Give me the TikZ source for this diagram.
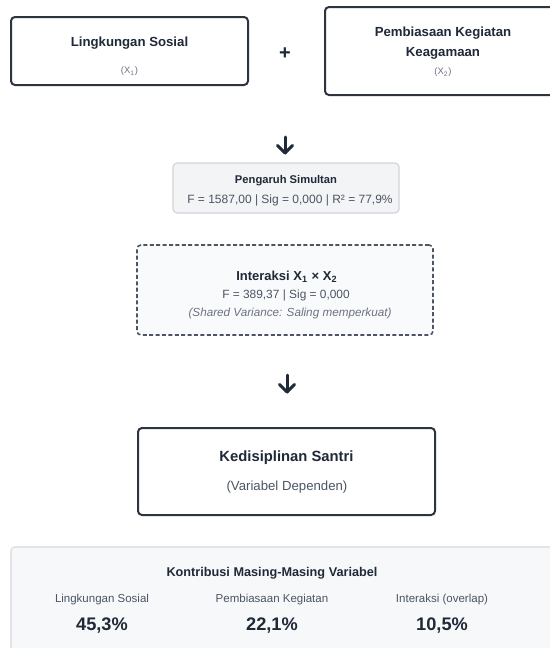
\documentclass[tikz,border=0pt]{standalone}
\usepackage{fontspec}
\setmainfont{Liberation Sans}
\usetikzlibrary{calc}
\definecolor{ink}{HTML}{1F2937}
\definecolor{bord}{HTML}{2D3440}
\definecolor{sub}{HTML}{6B7280}
\definecolor{mid}{HTML}{4B5563}
\definecolor{gfill}{HTML}{F3F4F6}
\definecolor{gbord}{HTML}{D1D5DB}
\definecolor{lfill}{HTML}{F9FAFB}
\definecolor{bfill}{HTML}{F7F8FA}
\definecolor{bbord}{HTML}{E2E4E8}
\tikzset{
  mainbox/.style={draw=bord, line width=1pt, rounded corners=2pt, fill=white},
  simbox/.style={draw=gbord, line width=0.6pt, rounded corners=2pt, fill=gfill},
  intbox/.style={draw=mid, line width=0.8pt, dash pattern=on 2pt off 1.2pt, rounded corners=2pt, fill=lfill},
  contbox/.style={draw=bbord, line width=0.8pt, rounded corners=2pt, fill=bfill},
  downarrow/.style={draw=ink, line width=1.5pt, line cap=round, line join=round},
  txt/.style={inner sep=0pt, text=ink},
}
\begin{document}
\begin{tikzpicture}[x=0.5pt,y=-0.5pt]
\useasboundingbox (0,0) rectangle (550,648);
\clip (0,0) rectangle (550,648);
\fill[white] (0,0) rectangle (550,648);

% top row
\node[mainbox, minimum width=118.5pt, minimum height=34pt] (b1) at (129.5,51) {};
\node[txt, font=\bfseries\fontsize{6.6}{8}\selectfont] (b1t) at (129.5,43) {Lingkungan Sosial};
\node[txt, text=sub, font=\fontsize{4.7}{6}\selectfont] (b1s) at (129.5,71) {(X\textsubscript{1})};

\node[txt, font=\bfseries\fontsize{10}{12}\selectfont] (plus) at (285,54) {+};

\node[mainbox, minimum width=118pt, minimum height=44pt] (b2) at (443,51) {};
\node[txt, font=\bfseries\fontsize{6.6}{8}\selectfont] (b2t) at (443,33) {Pembiasaan Kegiatan};
\node[txt, font=\bfseries\fontsize{6.6}{8}\selectfont] (b2u) at (443,53) {Keagamaan};
\node[txt, text=sub, font=\fontsize{4.7}{6}\selectfont] (b2s) at (443,72) {(X\textsubscript{2})};

% arrow 1
\coordinate (a1s) at (285,137);
\coordinate (a1e) at (285,153);
\draw[downarrow] (a1s) -- (a1e);
\draw[downarrow] ($(a1e)+(-7.5,-7.5)$) -- (a1e) -- ($(a1e)+(7.5,-7.5)$);

% simultaneous
\node[simbox, minimum width=113pt, minimum height=25pt] (b3) at (286,188) {};
\node[txt, font=\bfseries\fontsize{5.6}{7}\selectfont] (b3t) at (286,181) {Pengaruh Simultan};
\node[txt, text=mid, font=\fontsize{6}{7}\selectfont] (b3s) at (290,200) {F = 1587,00 | Sig = 0,000 | R² = 77,9\%};

% interaction
\node[intbox, minimum width=148pt, minimum height=45pt] (b4) at (285,290) {};
\node[txt, font=\bfseries\fontsize{6.5}{8}\selectfont] (b4t) at (287,277) {Interaksi X\textsubscript{1} × X\textsubscript{2}};
\node[txt, text=mid, font=\fontsize{5.95}{7}\selectfont] (b4s) at (286,295) {F = 389,37 | Sig = 0,000};
\node[txt, text=sub, font=\itshape\fontsize{5.85}{7}\selectfont] (b4u) at (290,313) {(Shared Variance: Saling memperkuat)};

% arrow 2
\coordinate (a2s) at (287,375);
\coordinate (a2e) at (287,392);
\draw[downarrow] (a2s) -- (a2e);
\draw[downarrow] ($(a2e)+(-7.5,-7.5)$) -- (a2e) -- ($(a2e)+(7.5,-7.5)$);

% dependent
\node[mainbox, minimum width=148.5pt, minimum height=43.5pt] (b5) at (286.5,471.5) {};
\node[txt, font=\bfseries\fontsize{7.4}{9}\selectfont] (b5t) at (286.5,458) {Kedisiplinan Santri};
\node[txt, text=mid, font=\fontsize{6.6}{8}\selectfont] (b5s) at (287,487) {(Variabel Dependen)};

% contributions
\node[contbox, minimum width=275pt, minimum height=76pt] (b6) at (286,623) {};
\node[txt, font=\bfseries\fontsize{6.35}{8}\selectfont] (b6t) at (272,573) {Kontribusi Masing-Masing Variabel};
\node[txt, text=mid, font=\fontsize{5.75}{7}\selectfont] (c1l) at (102,600) {Lingkungan Sosial};
\node[txt, font=\bfseries\fontsize{9.1}{11}\selectfont] (c1v) at (102,626) {45,3\%};
\node[txt, text=mid, font=\fontsize{5.75}{7}\selectfont] (c2l) at (272,600) {Pembiasaan Kegiatan};
\node[txt, font=\bfseries\fontsize{9.1}{11}\selectfont] (c2v) at (272,626) {22,1\%};
\node[txt, text=mid, font=\fontsize{5.75}{7}\selectfont] (c3l) at (442,600) {Interaksi (overlap)};
\node[txt, font=\bfseries\fontsize{9.1}{11}\selectfont] (c3v) at (442,626) {10,5\%};
\end{tikzpicture}
\end{document}
